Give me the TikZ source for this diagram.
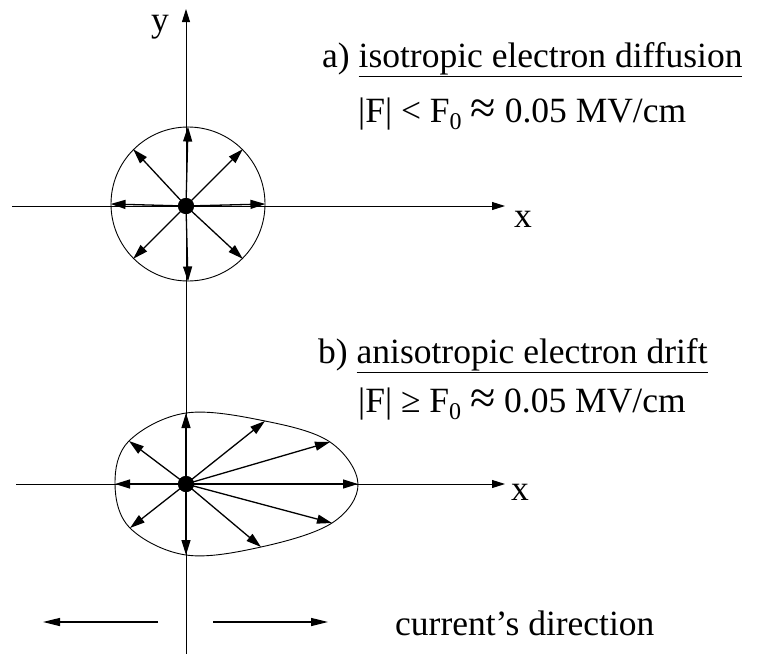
\documentclass[tikz,border=0pt]{standalone}
\usepackage{fontspec}
\setmainfont{Liberation Serif}
\usetikzlibrary{arrows.meta}
\tikzset{
  vec/.style={line width=1.3pt, -{Triangle[length=15pt,width=9pt]}},
  axisline/.style={line width=0.9pt, -{Triangle[length=13pt,width=8pt]}},
  curdir/.style={line width=1.3pt, -{Triangle[length=17pt,width=8pt]}},
  lbl/.style={font=\fontsize{35.5}{40}\selectfont, inner sep=0pt},
  dotnode/.style={circle, fill=black, minimum size=16pt, inner sep=0pt},
}
\newcommand{\subzero}{\raisebox{-7pt}{\fontsize{24}{24}\selectfont 0}}
\newcommand{\apx}{\raisebox{-1pt}{\scalebox{1.3}{≈}}}
\begin{document}
\begin{tikzpicture}[x=1pt,y=-1pt]
\useasboundingbox (0,0) rectangle (764,654);

% axes
\coordinate (ybot) at (186,654);
\coordinate (ytop) at (186,9);
\coordinate (xal) at (12,206);
\coordinate (xar) at (505,206);
\coordinate (xbl) at (16,484);
\coordinate (xbr) at (505,484);
\draw[axisline] (ybot) -- (ytop);
\draw[axisline] (xal) -- (xar);
\draw[axisline] (xbl) -- (xbr);
\node[lbl, anchor=base] (ylab) at (160,31) {y};
\node[lbl, anchor=base] (xlaba) at (523,227) {x};
\node[lbl, anchor=base] (xlabb) at (520,500) {x};

% a) isotropic circle
\node[circle, draw, line width=0.9pt, minimum size=154pt, inner sep=0pt] (circ) at (188,204) {};
\node[dotnode] (c1) at (186,206) {};
\foreach \a in {0,45,...,315} {
  \draw[vec] (c1.center) -- (circ.\a);
}
\node[dotnode] (c1b) at (186,206) {};

% b) anisotropic egg
\coordinate (e1) at (186,413);
\coordinate (e2) at (265,421);
\coordinate (e3) at (330,442);
\coordinate (e4) at (358,484);
\coordinate (e5) at (332,523);
\coordinate (e6) at (261,547);
\coordinate (e7) at (186,555);
\coordinate (e8) at (130,528);
\coordinate (e9) at (115,484);
\coordinate (e10) at (129,441);
\draw[line width=0.9pt] plot[smooth cycle, tension=0.6] coordinates
  {(e1) (e2) (e3) (e4) (e5) (e6) (e7) (e8) (e9) (e10)};
\node[dotnode] (c2) at (186,484) {};
\foreach \p in {e1,e2,e3,e4,e5,e6,e7,e8,e9,e10} {
  \draw[vec] (c2.center) -- (\p);
}
\node[dotnode] (c2b) at (186,484) {};

% texts
\node[lbl, anchor=base west] (ta) at (322,67) {a) \underline{isotropic electron diffusion}};
\node[lbl, anchor=base west] (fa) at (358,122) {|F| < F\subzero{} \apx{} 0.05 MV/cm};
\node[lbl, anchor=base west] (tb) at (318,363) {b) \underline{anisotropic electron drift}};
\node[lbl, anchor=base west] (fb) at (358,412) {|F| ≥ F\subzero{} \apx{} 0.05 MV/cm};

% current's direction
\coordinate (l1) at (158,622);
\coordinate (l2) at (43,622);
\coordinate (r1) at (213,622);
\coordinate (r2) at (328,622);
\draw[curdir] (l1) -- (l2);
\draw[curdir] (r1) -- (r2);
\node[lbl, anchor=base west] (cd) at (395,635) {current’s direction};
\end{tikzpicture}
\end{document}
